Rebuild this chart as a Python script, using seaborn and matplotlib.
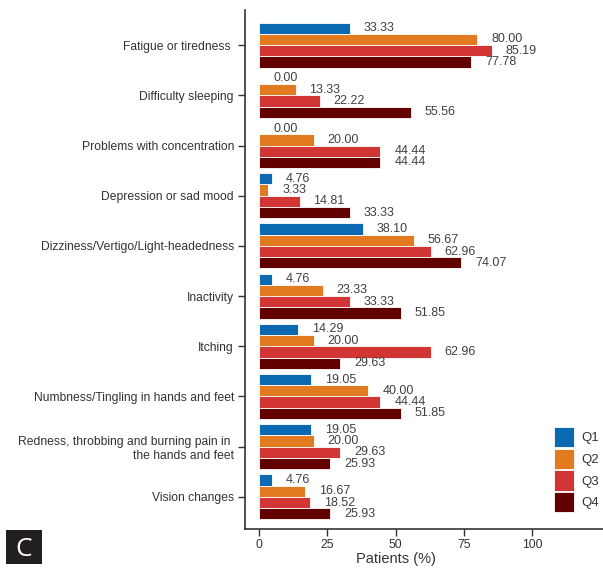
import matplotlib
matplotlib.use("Agg")
import matplotlib.pyplot as plt
from matplotlib.patches import Rectangle
import seaborn as sns
import pandas as pd

categories = [
    "Fatigue or tiredness ",
    "Difficulty sleeping",
    "Problems with concentration",
    "Depression or sad mood",
    "Dizziness/Vertigo/Light-headedness",
    "Inactivity",
    "Itching",
    "Numbness/Tingling in hands and feet",
    "Redness, throbbing and burning pain in \nthe hands and feet",
    "Vision changes",
]
quarters = ["Q1", "Q2", "Q3", "Q4"]
q1 = [33.33, 0.00, 0.00, 4.76, 38.10, 4.76, 14.29, 19.05, 19.05, 4.76]
q2 = [80.00, 13.33, 20.00, 3.33, 56.67, 23.33, 20.00, 40.00, 20.00, 16.67]
q3 = [85.19, 22.22, 44.44, 14.81, 62.96, 33.33, 62.96, 44.44, 29.63, 18.52]
q4 = [77.78, 55.56, 44.44, 33.33, 74.07, 51.85, 29.63, 51.85, 25.93, 25.93]
colors = ["#0A69B0", "#E27A1F", "#D13534", "#620000"]

rows = []
for q, vals in zip(quarters, [q1, q2, q3, q4]):
    for c, v in zip(categories, vals):
        rows.append({"Symptom": c, "Quarter": q, "Patients": v})
df = pd.DataFrame(rows)

sns.set_style("white")
plt.rcParams["font.family"] = ["Liberation Sans", "DejaVu Sans"]

W, H = 603, 570
fig = plt.figure(figsize=(W / 100, H / 100), dpi=100)
ax = fig.add_axes([245 / W, 1 - 529 / H, 1 - 245 / W, (529 - 10) / H])

sns.barplot(data=df, y="Symptom", x="Patients", hue="Quarter", orient="h",
            palette=colors, width=0.9, gap=0, errorbar=None, ax=ax,
            saturation=1, linewidth=0.6, edgecolor="white")

for cont in ax.containers:
    ax.bar_label(cont, fmt="%.2f", padding=10, fontsize=9, color="#404040")

ax.set_xlim(-5.2, 126)
ax.set_ylim(9.64, -0.70)
ax.set_xticks([0, 25, 50, 75, 100])
ax.tick_params(axis="both", which="both", direction="out", length=5, width=1,
               color="#333333", labelsize=8.7, labelcolor="#333333")
ax.tick_params(axis="x", pad=2)
ax.tick_params(axis="y", pad=3, bottom=False)
ax.xaxis.set_ticks_position("bottom")
ax.yaxis.set_ticks_position("left")
ax.set_xlabel("Patients (%)", fontsize=10.5, color="#333333")
ax.xaxis.set_label_coords((396 - 245) / 358, -0.045)
ax.set_ylabel("")
for s in ["top", "right"]:
    ax.spines[s].set_visible(False)
for s in ["left", "bottom"]:
    ax.spines[s].set_color("#333333")
    ax.spines[s].set_linewidth(1.2)

for lbl in ax.get_yticklabels():
    lbl.set_horizontalalignment("right")
    lbl.set_multialignment("right")

leg = ax.legend(loc="lower right", bbox_to_anchor=(1.014, 0.014), frameon=False,
                handlelength=1.5, handleheight=2.0, handletextpad=0.55,
                labelspacing=0.1, fontsize=9.5, borderaxespad=0.3)
for t in leg.get_texts():
    t.set_color("#333333")

# panel letter badge
fig.patches.append(Rectangle((6 / W, 1 - 564 / H), 36 / W, 34 / H,
                             transform=fig.transFigure, fc="#231F20", ec="none"))
fig.text(24 / W, 1 - 547 / H, "C", fontsize=19, color="white",
         ha="center", va="center_baseline", family=["Open Sans", "DejaVu Sans"])

fig.savefig("out.png", dpi=100)
